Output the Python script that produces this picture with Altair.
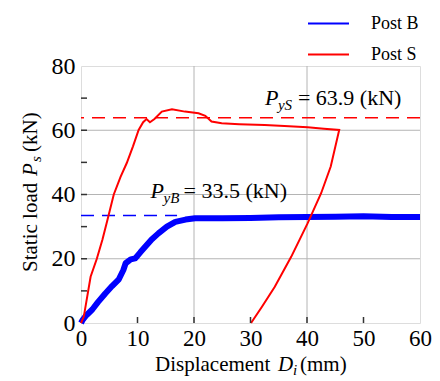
import altair as alt
import pandas as pd

# ---- data ----
b_disp = [0, 0.3, 1.0, 2.0, 3.0, 4.3, 5.5, 6.7, 7.5, 7.9, 8.8, 9.6, 10.5, 11.4, 12.5, 13.7,
          15.2, 16.7, 18.5, 20.2, 25, 30, 35, 40, 45, 50, 55, 60]
b_load = [0, 1.0, 2.5, 4.2, 6.5, 9.2, 11.5, 13.6, 16.5, 18.6, 19.8, 20.1, 22.0, 23.8, 26.0, 27.9,
          30.0, 31.5, 32.2, 32.6, 32.6, 32.7, 32.9, 33.0, 33.1, 33.2, 33.0, 33.0]
s_disp = [0, 0.5, 1.1, 1.7, 2.8, 3.8, 4.6, 5.8, 7.0, 8.1, 9.2, 10.2, 11.0, 11.6, 12.2, 13.0,
          14.3, 16.1, 18.4, 20.8, 22.0, 23.1, 24.9, 28.0, 32.5, 36.0, 40.1, 43.0, 45.7,
          44.2, 42.5, 40.1, 37.2, 34.3, 32.0, 30.1]
s_load = [0, 2.0, 8.2, 14.4, 20.0, 26.0, 31.5, 40.0, 45.5, 49.8, 55.0, 60.1, 62.5, 63.5, 62.5, 63.5,
          65.8, 66.5, 65.8, 65.3, 64.5, 62.7, 62.2, 61.9, 61.6, 61.3, 60.9, 60.5, 60.1,
          48.7, 40.4, 31.0, 20.6, 11.3, 5.0, 0.0]
series_names = ["Post B", "Post S"]
series_colors = ["#0000ff", "#ff0000"]
py_s = 63.9
py_b = 33.5
py_b_end = 17
x_labels = [0, 10, 20, 30, 40, 50, 60]
y_labels = [0, 20, 40, 60, 80]
x_minor = [10, 20, 30, 40, 50]
y_minor = [10, 20, 30, 40, 50, 60, 70]
x_grid = [20, 40]
y_grid = [20, 40, 60]

FONT = "Liberation Serif"
W, H = 339, 257

df_b = pd.DataFrame({"disp": b_disp, "load": b_load, "series": series_names[0],
                     "idx": list(range(len(b_disp)))})
df_s = pd.DataFrame({"disp": s_disp, "load": s_load, "series": series_names[1],
                     "idx": list(range(len(s_disp)))})

xs = alt.Scale(domain=[0, 60], nice=False)
ys = alt.Scale(domain=[0, 80], nice=False)

xaxis = alt.Axis(values=x_labels, title=None, ticks=False, grid=False, domain=False,
                 labelFontSize=23, labelFont=FONT, labelColor="black", labelPadding=4,
                 labelFlush=False)
yaxis = alt.Axis(values=y_labels, title=None, ticks=False, grid=False, domain=False,
                 labelFontSize=24, labelFont=FONT, labelColor="black", labelPadding=6,
                 labelFlush=False)

color = alt.Color("series:N",
                  scale=alt.Scale(domain=series_names, range=series_colors),
                  legend=alt.Legend(title=None, orient="none", legendX=226, legendY=-64,
                                    symbolType="stroke", symbolSize=1681, symbolStrokeWidth=2,
                                    labelFontSize=18, labelFont=FONT, labelColor="black",
                                    labelOffset=21, rowPadding=0, padding=0))

grid_x = alt.Chart(pd.DataFrame({"v": x_grid})).mark_rule(color="#b4b4b4", strokeWidth=1).encode(
    x=alt.X("v:Q", scale=xs, axis=xaxis))
grid_y = alt.Chart(pd.DataFrame({"v": y_grid})).mark_rule(color="#b4b4b4", strokeWidth=1).encode(
    y=alt.Y("v:Q", scale=ys, axis=yaxis))

dash_s = alt.Chart(pd.DataFrame({"v": [py_s]})).mark_rule(
    color="#ff0000", strokeWidth=1.5, strokeDash=[13, 8]).encode(y=alt.Y("v:Q", scale=ys))
dash_b = alt.Chart(pd.DataFrame({"v": [py_b], "a": [0], "b": [py_b_end]})).mark_rule(
    color="#0000ff", strokeWidth=1.5, strokeDash=[13, 8]).encode(
    y=alt.Y("v:Q", scale=ys), x=alt.X("a:Q", scale=xs), x2="b:Q")

line_b = alt.Chart(df_b).mark_line(strokeWidth=6, strokeJoin="round").encode(
    x=alt.X("disp:Q", scale=xs), y=alt.Y("load:Q", scale=ys), color=color, order="idx:Q")
line_s = alt.Chart(df_s).mark_line(strokeWidth=2).encode(
    x=alt.X("disp:Q", scale=xs), y=alt.Y("load:Q", scale=ys), color=color, order="idx:Q")

ticks_x = alt.Chart(pd.DataFrame({"v": x_minor})).mark_rule(color="#333333", strokeWidth=1.5).encode(
    x=alt.X("v:Q", scale=xs), y=alt.value(H), y2=alt.value(H - 6))
ticks_y = alt.Chart(pd.DataFrame({"v": y_minor})).mark_rule(color="#333333", strokeWidth=1.5).encode(
    y=alt.Y("v:Q", scale=ys), x=alt.value(0), x2=alt.value(6))

one = pd.DataFrame({"k": [0]})


def txt(t, x, y, size=21, italic=False, angle=0):
    kw = dict(text=t, font=FONT, fontSize=size, color="black", align="left",
              baseline="alphabetic")
    if italic:
        kw["fontStyle"] = "italic"
    if angle:
        kw["angle"] = angle
    return alt.Chart(one).mark_text(**kw).encode(x=alt.value(x), y=alt.value(y))


def ann(parts, d, p):
    layers = []
    for t, dx, dy, size, it in parts:
        kw = dict(text=t, font=FONT, fontSize=size, color="black", align="left",
                  baseline="alphabetic", dx=dx, dy=dy)
        if it:
            kw["fontStyle"] = "italic"
        layers.append(alt.Chart(pd.DataFrame({"d": [d], "p": [p]})).mark_text(**kw).encode(
            x=alt.X("d:Q", scale=xs), y=alt.Y("p:Q", scale=ys)))
    return layers


ann_s = ann([("P", 0, 0, 22, True), ("yS", 13, 5, 15, True), ("= 63.9 (kN)", 33, 0, 22, False)],
            32.55, 67.9)
ann_b = ann([("P", 0, 0, 22, True), ("yB", 13, 5, 15, True), ("= 33.5 (kN)", 33, 0, 22, False)],
            12.32, 38.9)

xtitle = [txt("Displacement", 74, 305), txt("D", 197, 305, italic=True),
          txt("i", 212, 309, size=15, italic=True), txt("(mm)", 219, 305)]
ytitle = [txt("Static load", -44, 206, angle=270), txt("P", -44, 110, italic=True, angle=270),
          txt("s", -40, 96, size=15, italic=True, angle=270), txt("(kN)", -44, 86, angle=270)]

chart = alt.layer(grid_x, grid_y, dash_s, dash_b, line_b, line_s, ticks_x, ticks_y,
                  *ann_s, *ann_b, *xtitle, *ytitle).properties(
    width=W, height=H,
    autosize=alt.AutoSizeParams(type="none"),
    padding={"left": 73, "top": 58, "right": 12, "bottom": 57},
).configure_view(stroke="#333333", strokeWidth=1.5).configure_axis(
    labelFont=FONT, labelColor="black"
).configure_legend(labelFont=FONT).configure(background="white", font=FONT)

chart.save("out.html", embed_options={"renderer": "svg", "actions": False})
